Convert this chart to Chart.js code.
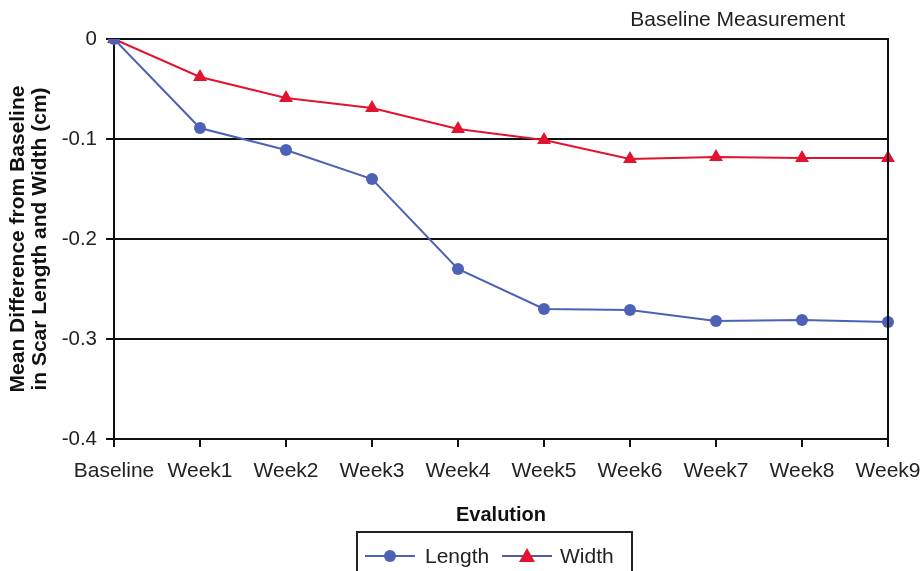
<!DOCTYPE html>
<html>
<head>
<meta charset="utf-8">
<script src="https://cdn.jsdelivr.net/npm/chart.js@4"></script>
<style>
html,body{margin:0;padding:0;background:#fff;}
#wrap{width:922px;height:571px;position:relative;}
</style>
</head>
<body>
<div id="wrap"><canvas id="c" width="922" height="571"></canvas></div>
<script>
const categories = ['Baseline','Week1','Week2','Week3','Week4','Week5','Week6','Week7','Week8','Week9'];
const lengthValues = [0, -0.089, -0.111, -0.140, -0.230, -0.270, -0.271, -0.282, -0.281, -0.283];
const widthValues = [0, -0.038, -0.059, -0.069, -0.090, -0.101, -0.120, -0.118, -0.119, -0.119];
const yTicks = [0, -0.1, -0.2, -0.3, -0.4];
const seriesNames = ['Length', 'Width'];
const topNote = 'Baseline Measurement';
const xTitle = 'Evalution';
const yTitle = ['Mean Difference from Baseline', 'in Scar Length and Width (cm)'];

const FONT = "'Liberation Sans', Arial, sans-serif";
const BLUE = '#4d62b6';
const RED = '#e2132e';

const framePlugin = {
  id: 'frame',
  afterDraw(chart) {
    const {ctx, chartArea: a} = chart;
    ctx.save();
    // right border
    ctx.strokeStyle = '#111';
    ctx.lineWidth = 2;
    ctx.beginPath();
    ctx.moveTo(a.right, a.top - 1);
    ctx.lineTo(a.right, a.bottom + 1);
    ctx.stroke();
    // top note
    ctx.fillStyle = '#222';
    ctx.font = '21px ' + FONT;
    ctx.textAlign = 'right';
    ctx.textBaseline = 'middle';
    ctx.fillText(topNote, a.right - 43, a.top - 19);
    // legend box
    const bx = 357, by = 532, bw = 275, bh = 50;
    ctx.lineWidth = 2;
    ctx.strokeStyle = '#222';
    ctx.strokeRect(bx, by, bw, bh);
    const ly = 556;
    const items = [
      {x: 365, name: seriesNames[0], line: BLUE, fill: BLUE, style: 'circle', tx: 425},
      {x: 502, name: seriesNames[1], line: '#5558a8', fill: RED, style: 'triangle', tx: 560}
    ];
    items.forEach(it => {
      ctx.strokeStyle = it.line;
      ctx.lineWidth = 2;
      ctx.beginPath();
      ctx.moveTo(it.x, ly);
      ctx.lineTo(it.x + 50, ly);
      ctx.stroke();
      const cx = it.x + 25;
      ctx.fillStyle = it.fill;
      ctx.beginPath();
      if (it.style === 'circle') {
        ctx.arc(cx, ly, 6, 0, Math.PI * 2);
      } else {
        ctx.moveTo(cx, ly - 8);
        ctx.lineTo(cx + 8, ly + 6);
        ctx.lineTo(cx - 8, ly + 6);
        ctx.closePath();
      }
      ctx.fill();
      ctx.fillStyle = '#222';
      ctx.font = '21px ' + FONT;
      ctx.textAlign = 'left';
      ctx.textBaseline = 'middle';
      ctx.fillText(it.name, it.tx, ly + 1);
    });
    ctx.restore();
  }
};

new Chart(document.getElementById('c'), {
  type: 'line',
  data: {
    labels: categories,
    datasets: [
      {
        label: seriesNames[0],
        data: lengthValues,
        borderColor: BLUE,
        backgroundColor: BLUE,
        borderWidth: 2,
        pointStyle: 'circle',
        pointRadius: 6,
        pointBorderWidth: 0,
        tension: 0
      },
      {
        label: seriesNames[1],
        data: widthValues,
        borderColor: RED,
        backgroundColor: RED,
        borderWidth: 2,
        pointStyle: 'triangle',
        pointRadius: 8,
        pointBorderWidth: 0,
        tension: 0
      }
    ]
  },
  options: {
    responsive: false,
    animation: false,
    devicePixelRatio: 1,
    layout: {padding: {top: 39, right: 34, bottom: 0, left: 0}},
    plugins: {
      legend: {display: false},
      tooltip: {enabled: false},
      title: {display: false}
    },
    scales: {
      x: {
        type: 'category',
        offset: false,
        grid: {display: true, drawOnChartArea: false, drawTicks: true, tickLength: 8, color: '#111', lineWidth: 2},
        border: {display: true, color: '#111', width: 2},
        ticks: {color: '#222', font: {family: FONT, size: 21}, padding: 12, maxRotation: 0, autoSkip: false},
        title: {display: true, text: xTitle, color: '#111', font: {family: FONT, size: 20, weight: 'bold'}, padding: {top: 0, bottom: 44}},
        afterFit(scale) { scale.height = 132; scale.paddingRight = 34; }
      },
      y: {
        min: -0.4,
        max: 0,
        afterBuildTicks(scale) { scale.ticks = yTicks.map(v => ({value: v})); },
        grid: {display: true, drawOnChartArea: true, drawTicks: true, tickLength: 8, color: '#111', lineWidth: 2},
        border: {display: true, color: '#111', width: 2},
        ticks: {color: '#222', font: {family: FONT, size: 20.5}, padding: 9, callback: v => (Math.abs(v) < 1e-9 ? '0' : String(Math.round(v * 10) / 10))},
        title: {display: true, text: yTitle, color: '#111', font: {family: FONT, size: 21, weight: 'bold', lineHeight: 1.05}, padding: {top: 7, bottom: 0}},
        afterFit(scale) { scale.width = 114; }
      }
    }
  },
  plugins: [framePlugin]
});
</script>
</body>
</html>
